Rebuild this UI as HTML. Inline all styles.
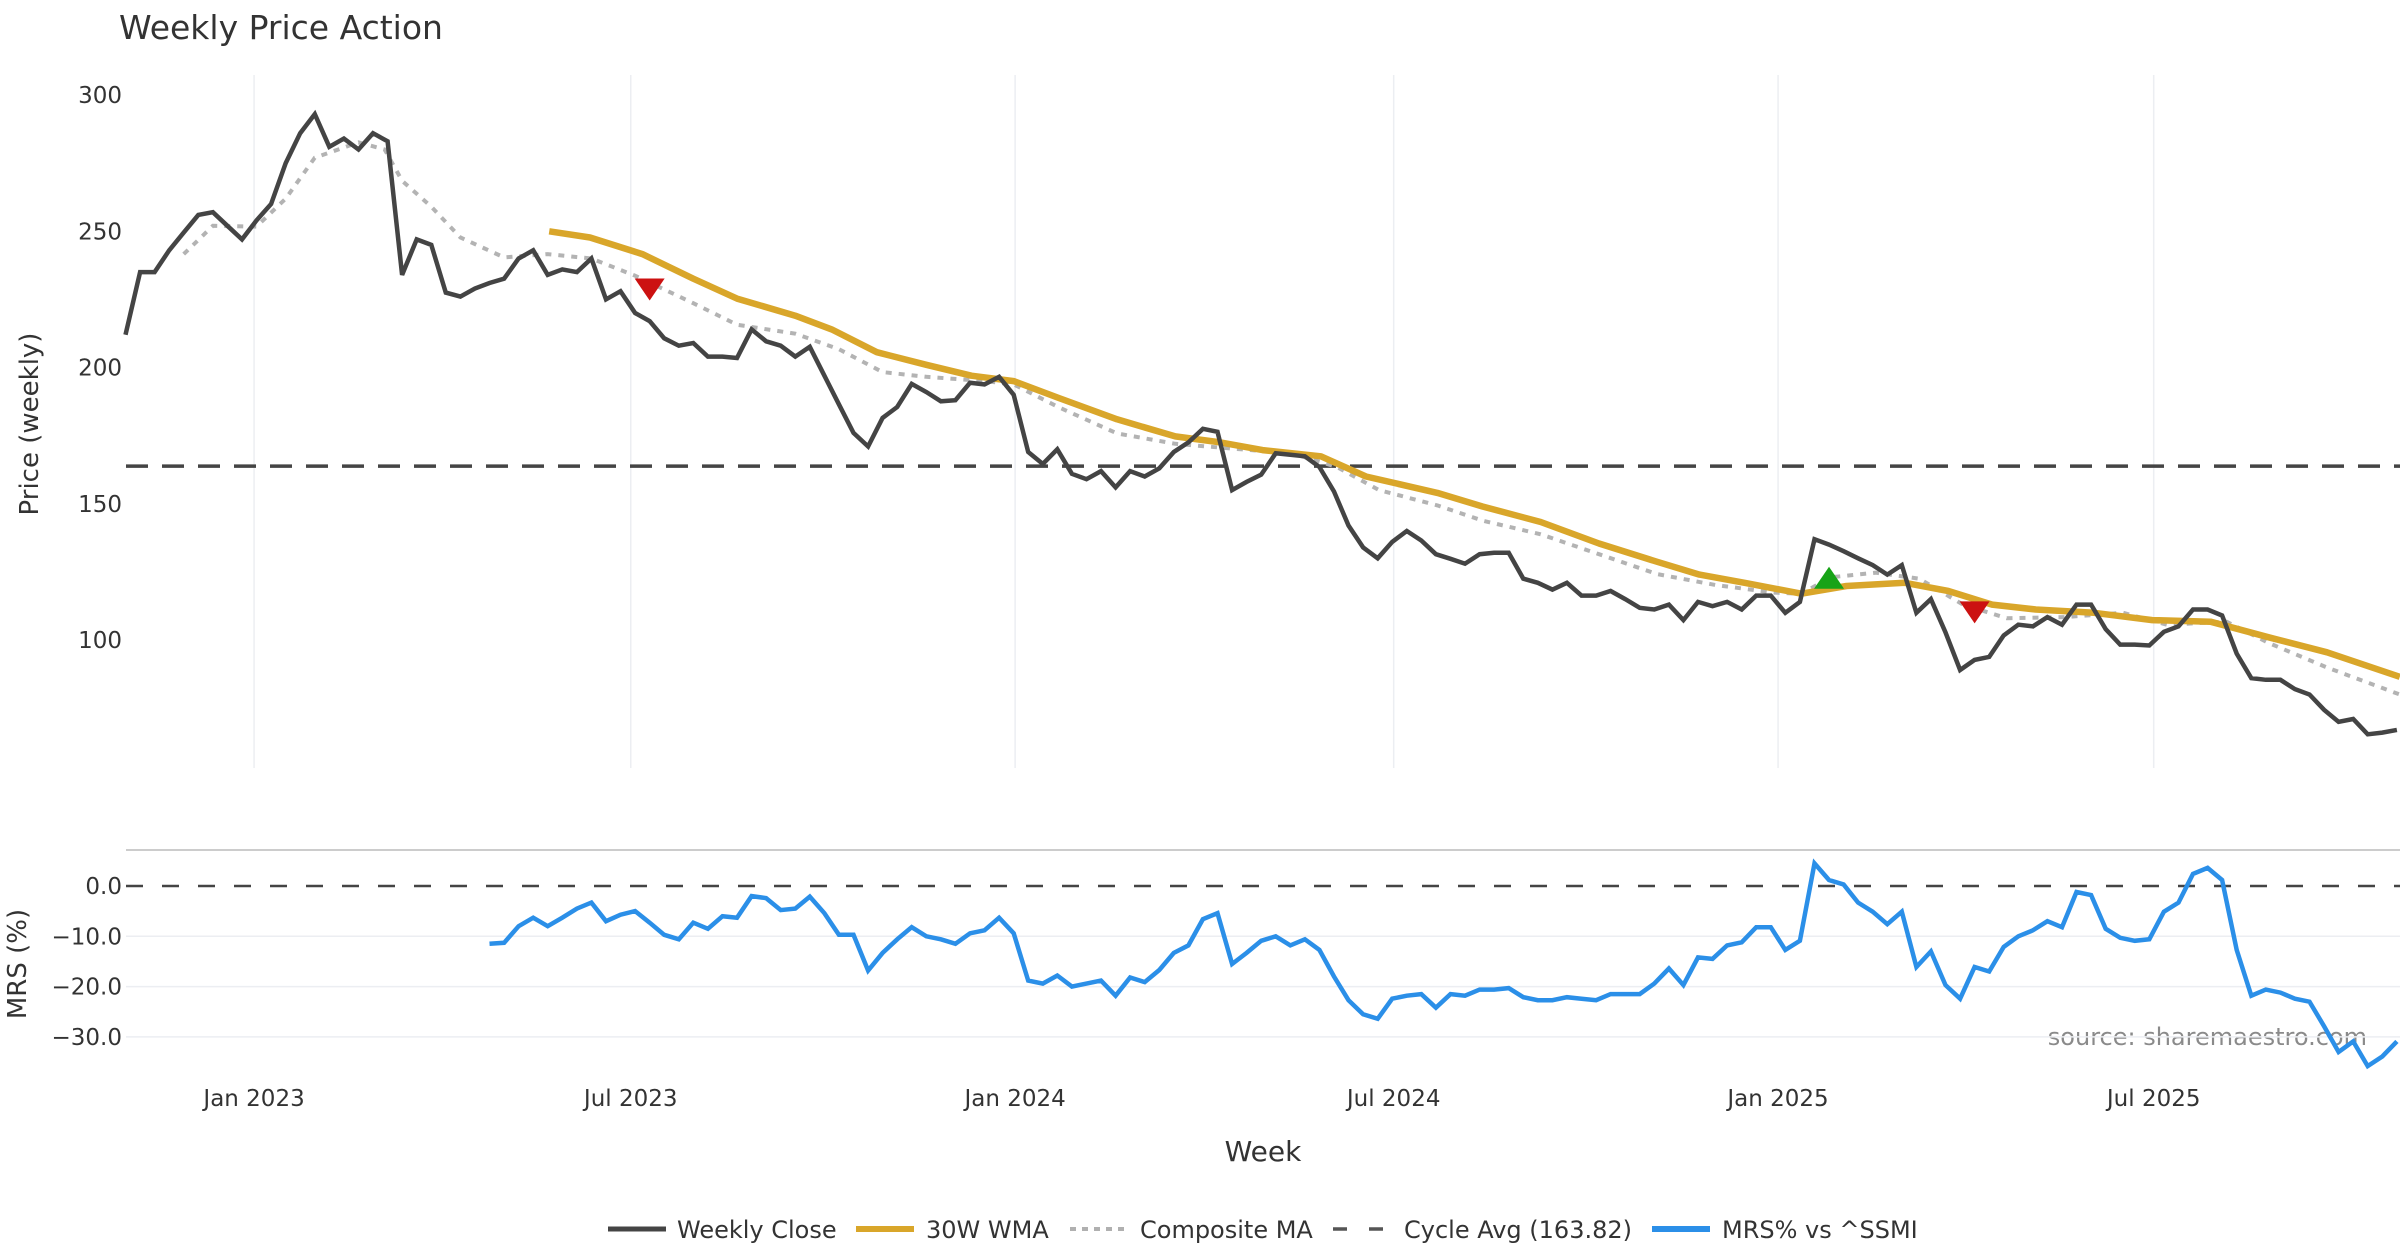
<!DOCTYPE html>
<html><head><meta charset="utf-8"><style>
html,body{margin:0;padding:0;background:#fff;}
svg{display:block;font-family:"DejaVu Sans","Liberation Sans",sans-serif;}
</style></head><body>
<svg id="chart" width="2400" height="1260" viewBox="0 0 2400 1260" xmlns="http://www.w3.org/2000/svg">
<text x="119" y="39" font-size="33" fill="#333">Weekly Price Action</text>
<text transform="translate(38,424) rotate(-90)" text-anchor="middle" font-size="26" fill="#333">Price (weekly)</text>
<text transform="translate(26,964) rotate(-90)" text-anchor="middle" font-size="26" fill="#333">MRS (%)</text>
<text x="1263" y="1161" text-anchor="middle" font-size="28" fill="#333">Week</text>
<text x="2367" y="1045" text-anchor="end" font-size="24" fill="#8a8a8a">source: sharemaestro.com</text>
<g id="legend" font-size="24" fill="#333">
  <g><line x1="608" y1="1229" x2="666" y2="1229" stroke="#444" stroke-width="5"/><text x="677" y="1238">Weekly Close</text></g>
  <g><line x1="856" y1="1229" x2="914" y2="1229" stroke="#d9a62a" stroke-width="6"/><text x="926" y="1238">30W WMA</text></g>
  <g><line x1="1070" y1="1229" x2="1128" y2="1229" stroke="#b0b0b0" stroke-width="4" stroke-dasharray="6,6"/><text x="1140" y="1238">Composite MA</text></g>
  <g><line x1="1333" y1="1229" x2="1392" y2="1229" stroke="#555" stroke-width="3.5" stroke-dasharray="14,22"/><text x="1404" y="1238">Cycle Avg (163.82)</text></g>
  <g><line x1="1652" y1="1229" x2="1710" y2="1229" stroke="#2b8fe8" stroke-width="6"/><text x="1722" y="1238">MRS% vs ^SSMI</text></g>
</g>
</svg>
<script>
const closeVals=[212,235,235,243,249.5,256,257,252,247,254,260,275,286,293,281,284,280,286,283,234,247,245,227.5,226,229,231,232.6,240,243,234,236,235,240,225,228,220,217,210.7,208,209,204,204,203.5,214,209.6,208,204,207.6,197,186.5,176,171,181.5,185.5,194,191,187.6,188,194.4,193.8,196.6,190,169,164.6,170,161,159,162,156,162,160,163,169,172.5,177.5,176.4,155,158,160.7,168.5,168,167.4,163.5,154.5,142,134,130,136,140,136.5,131.5,129.8,128,131.5,132,132,122.5,121,118.5,121,116.3,116.3,118,115,111.8,111.2,113,107.3,114,112.4,114,111.2,116.3,116.3,110,114,137,135,132.6,130,127.5,124,127.5,110,115,102.8,89,92.7,93.8,101.7,105.6,105,108.4,105.6,113,113,104,98.3,98.3,98,103,105,111.2,111.2,109,95,86,85.4,85.4,82,80,74.4,70,71,65.4,66,67];
const wmaWeeks=[29.1,31.9,35.5,39,42,46,48.5,51.6,55,58.1,61,64.1,68.1,72.1,75.2,78.1,82.1,85.2,90.1,93.2,97.2,101.2,105.2,108.1,111.2,115.1,118.2,122.2,125.2,128.2,131.2,135.2,139.2,143.2,147.2,151.2,156.2];
const wmaVals=[250,247.7,241.6,232.6,225.3,219,214,205.6,201,197,195,188.8,181,174.7,172.5,169.7,167.4,160,154,149,143.3,135.4,128.7,124,121,117,119.8,121,118,113,111.2,110,107.3,106.7,101,95.5,86.5];
const compWeeks=[4,6,9,11,13,16,17.8,19,21,23,26,29,32,35,39,42,46,49,52,55,59,61,64.1,68.1,72.1,76.1,80.1,83.2,86.1,90.1,93.2,97.2,101.2,105.2,109.2,113.2,115.1,117.1,120.2,123.2,126.2,129.2,133.2,137.2,140.2,144.3,147.2,151.2,156.2];
const compVals=[241.6,252,251.7,262,277,282.6,280,268.5,259,247.7,240.4,241.6,240,233.7,223.6,215.7,212.4,206.7,198.3,196.6,195,193.8,185.4,175.8,172,170.2,168.5,163.5,155,149.4,143.8,138.8,131.5,124.2,120.2,117.4,117,123,124.7,122.5,113,108,108.4,110,105.6,106.7,98.9,89.9,80];
const cycleAvg=163.82;
const mrsStart=25;
const mrsVals=[-11.5,-11.3,-8,-6.3,-8,-6.3,-4.5,-3.3,-7,-5.7,-5,-7.3,-9.7,-10.6,-7.3,-8.5,-6,-6.3,-2,-2.4,-4.8,-4.5,-2.1,-5.4,-9.7,-9.7,-16.8,-13.3,-10.6,-8.2,-10,-10.6,-11.5,-9.4,-8.8,-6.3,-9.4,-18.8,-19.4,-17.8,-20,-19.4,-18.8,-21.8,-18.2,-19.1,-16.7,-13.3,-11.8,-6.6,-5.4,-15.5,-13.3,-10.9,-10,-11.8,-10.6,-12.7,-18,-22.7,-25.5,-26.4,-22.4,-21.8,-21.5,-24.2,-21.5,-21.8,-20.6,-20.6,-20.3,-22.1,-22.7,-22.7,-22.1,-22.4,-22.7,-21.5,-21.5,-21.5,-19.4,-16.4,-19.7,-14.2,-14.5,-11.8,-11.2,-8.2,-8.2,-12.7,-10.9,4.5,1.2,0.3,-3.3,-5.1,-7.6,-5.1,-16.1,-13,-19.7,-22.4,-16.1,-17,-12.1,-10,-8.8,-7,-8.2,-1.2,-1.8,-8.5,-10.3,-10.9,-10.6,-5.1,-3.3,2.4,3.6,1.2,-12.7,-21.8,-20.6,-21.2,-22.4,-23,-27.9,-33,-30.9,-35.8,-33.9,-30.9];
const sigWeeks=[36,117,127];
const sigVals=[229,122.5,110.5];
const sigTypes=['sell','buy','sell'];
const tickWeeks=[8.83,34.7,61.1,87.1,113.5,139.3];
const tickLabels=['Jan 2023','Jul 2023','Jan 2024','Jul 2024','Jan 2025','Jul 2025'];
const priceTicks=[100,150,200,250,300];
const mrsTicks=[0,-10,-20,-30];

const NS='http://www.w3.org/2000/svg';
const svg=document.getElementById('chart');
const X=w=>125.5+w*14.56;
const YP=v=>95+(300-v)*2.725;
const YM=v=>886-v*5.03;
function mk(tag,attrs,parent){const e=document.createElementNS(NS,tag);for(const k in attrs)e.setAttribute(k,attrs[k]);(parent||svg).appendChild(e);return e;}
const gGrid=mk('g',{});


tickWeeks.forEach((w,i)=>{
  const l=mk('line',{x1:X(w),x2:X(w),y1:75,y2:768,stroke:'#eceef2','stroke-width':1.5},gGrid);
  
  
  const t=mk('text',{x:X(w),y:1106,'text-anchor':'middle','font-size':23,fill:'#333'});
  t.textContent=tickLabels[i];
  
  
});
priceTicks.forEach(v=>{
  const t=mk('text',{x:122,y:YP(v)+8,'text-anchor':'end','font-size':23,fill:'#333'});
  t.textContent=v;
  
  
});
const sep=mk('line',{x1:126,x2:2400,y1:850,y2:850,stroke:'#cccccc','stroke-width':2});


mrsTicks.forEach(v=>{
  if(v!==0){const l=mk('line',{x1:126,x2:2400,y1:YM(v),y2:YM(v),stroke:'#eceef2','stroke-width':1.5});
  
  }
  const t=mk('text',{x:122,y:YM(v)+8,'text-anchor':'end','font-size':23,fill:'#333'});
  t.textContent=(v===0?'0.0':'\u2212'+Math.abs(v).toFixed(1));
  
  
});
const zl=mk('line',{x1:126,x2:2400,y1:YM(0),y2:YM(0),stroke:'#444','stroke-width':2.5,'stroke-dasharray':'17,19'});


const cl=mk('line',{x1:126,x2:2400,y1:YP(cycleAvg),y2:YP(cycleAvg),stroke:'#444','stroke-width':3.5,'stroke-dasharray':'22,14'});


function pts(ws,vs,fy){return vs.map((v,i)=>X(ws[i]).toFixed(1)+','+fy(v).toFixed(1)).join(' ');}
const cp=mk('polyline',{points:pts(compWeeks,compVals,YP),fill:'none',stroke:'#b3b3b3','stroke-width':4,'stroke-dasharray':'6,7'});


const wm=mk('polyline',{points:pts(wmaWeeks,wmaVals,YP),fill:'none',stroke:'#d9a62a','stroke-width':6.5,'stroke-linejoin':'round'});


const cw=closeVals.map((v,i)=>i);
const cc=mk('polyline',{points:pts(cw,closeVals,YP),fill:'none',stroke:'#444','stroke-width':4.5,'stroke-linejoin':'miter'});


const mw=mrsVals.map((v,i)=>i+mrsStart);
const ml=mk('polyline',{points:pts(mw,mrsVals,YM),fill:'none',stroke:'#2b8fe8','stroke-width':4.5});


sigWeeks.forEach((w,i)=>{
  const x=X(w),y=YP(sigVals[i]);let p;
  if(sigTypes[i]==='sell')p=`${x-15},${y-10} ${x+15},${y-10} ${x},${y+12}`;
  else p=`${x-15},${y+10} ${x+15},${y+10} ${x},${y-12}`;
  const t=mk('polygon',{points:p,fill:sigTypes[i]==='sell'?'#cc1111':'#17a317'});
  
  
});
</script>
</body></html>
